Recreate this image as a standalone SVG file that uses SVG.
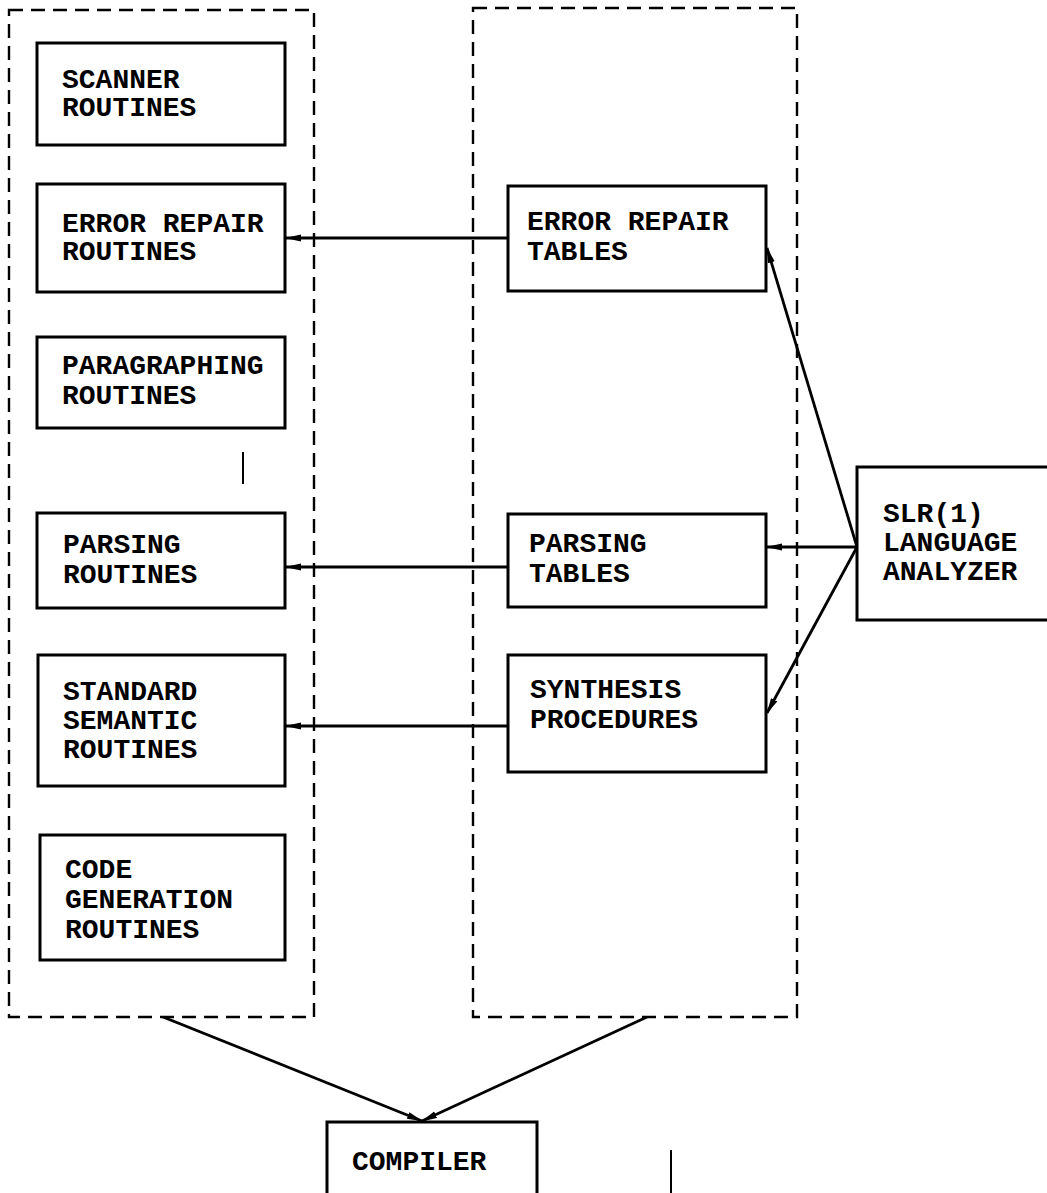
<svg xmlns="http://www.w3.org/2000/svg" width="1047" height="1193" viewBox="0 0 1047 1193">
<style>
.bg{fill:#ffffff}
.box{fill:none;stroke:#000;stroke-width:3}
.cont{fill:none;stroke:#000;stroke-width:2.4;stroke-dasharray:14 8}
.t{font-family:"Liberation Mono","Courier New",monospace;font-size:28px;font-weight:bold;fill:#000}
.c{fill:none;stroke:#000;stroke-width:2.8}
.stray{fill:none;stroke:#000;stroke-width:2}
</style>
<defs>
<marker id="ah" viewBox="0 0 16 8" refX="15" refY="4" markerWidth="16" markerHeight="8" markerUnits="userSpaceOnUse" orient="auto">
<path d="M0,0.5 L16,4 L0,7.5 Z" fill="#000"/>
</marker>
</defs>
<rect class="bg" x="0" y="0" width="1047" height="1193"/>

<g id="routines-group">
<rect class="cont" x="9" y="10" width="305" height="1007"/>
</g>
<g id="tables-group">
<rect class="cont" x="473" y="8" width="324" height="1009"/>
</g>

<g id="scanner-routines">
<rect class="box" x="37" y="43" width="248" height="102"/>
<text class="t" x="62" y="88">SCANNER</text>
<text class="t" x="62" y="116">ROUTINES</text>
</g>
<g id="error-repair-routines">
<rect class="box" x="37" y="184" width="248" height="108"/>
<text class="t" x="62" y="232">ERROR REPAIR</text>
<text class="t" x="62" y="260">ROUTINES</text>
</g>
<g id="paragraphing-routines">
<rect class="box" x="37" y="337" width="248" height="91"/>
<text class="t" x="62" y="374">PARAGRAPHING</text>
<text class="t" x="62" y="404">ROUTINES</text>
</g>
<g id="parsing-routines">
<rect class="box" x="37" y="513" width="248" height="95"/>
<text class="t" x="63" y="553">PARSING</text>
<text class="t" x="63" y="583">ROUTINES</text>
</g>
<g id="standard-semantic-routines">
<rect class="box" x="38" y="655" width="247" height="131"/>
<text class="t" x="63" y="700">STANDARD</text>
<text class="t" x="63" y="729">SEMANTIC</text>
<text class="t" x="63" y="758">ROUTINES</text>
</g>
<g id="code-generation-routines">
<rect class="box" x="40" y="835" width="245" height="125"/>
<text class="t" x="65" y="878">CODE</text>
<text class="t" x="65" y="908">GENERATION</text>
<text class="t" x="65" y="938">ROUTINES</text>
</g>

<g id="error-repair-tables">
<rect class="box" x="508" y="186" width="258" height="105"/>
<text class="t" x="527" y="230">ERROR REPAIR</text>
<text class="t" x="527" y="260">TABLES</text>
</g>
<g id="parsing-tables">
<rect class="box" x="508" y="514" width="258" height="93"/>
<text class="t" x="529" y="552">PARSING</text>
<text class="t" x="529" y="582">TABLES</text>
</g>
<g id="synthesis-procedures">
<rect class="box" x="508" y="655" width="258" height="117"/>
<text class="t" x="530" y="698">SYNTHESIS</text>
<text class="t" x="530" y="728">PROCEDURES</text>
</g>

<g id="slr-language-analyzer">
<rect class="box" x="857" y="467" width="196" height="153"/>
<text class="t" x="883" y="522">SLR(1)</text>
<text class="t" x="883" y="551">LANGUAGE</text>
<text class="t" x="883" y="580">ANALYZER</text>
</g>

<g id="compiler">
<rect class="box" x="327" y="1122" width="210" height="80"/>
<text class="t" x="352" y="1170">COMPILER</text>
</g>

<g id="connectors">
<line class="c" x1="508" y1="238" x2="286" y2="238" marker-end="url(#ah)"/>
<line class="c" x1="508" y1="567" x2="286" y2="567" marker-end="url(#ah)"/>
<line class="c" x1="508" y1="726" x2="286" y2="726" marker-end="url(#ah)"/>
<line class="c" x1="857" y1="547" x2="767" y2="547" marker-end="url(#ah)"/>
<line class="c" x1="857" y1="547" x2="767" y2="248" marker-end="url(#ah)"/>
<line class="c" x1="857" y1="547" x2="767" y2="713" marker-end="url(#ah)"/>
<line class="c" x1="163" y1="1017" x2="422" y2="1121" marker-end="url(#ah)"/>
<line class="c" x1="647" y1="1017" x2="422" y2="1121" marker-end="url(#ah)"/>
</g>

<line class="stray" x1="671" y1="1150" x2="671" y2="1193"/>
<line class="stray" x1="243" y1="452" x2="243" y2="484"/>
</svg>
